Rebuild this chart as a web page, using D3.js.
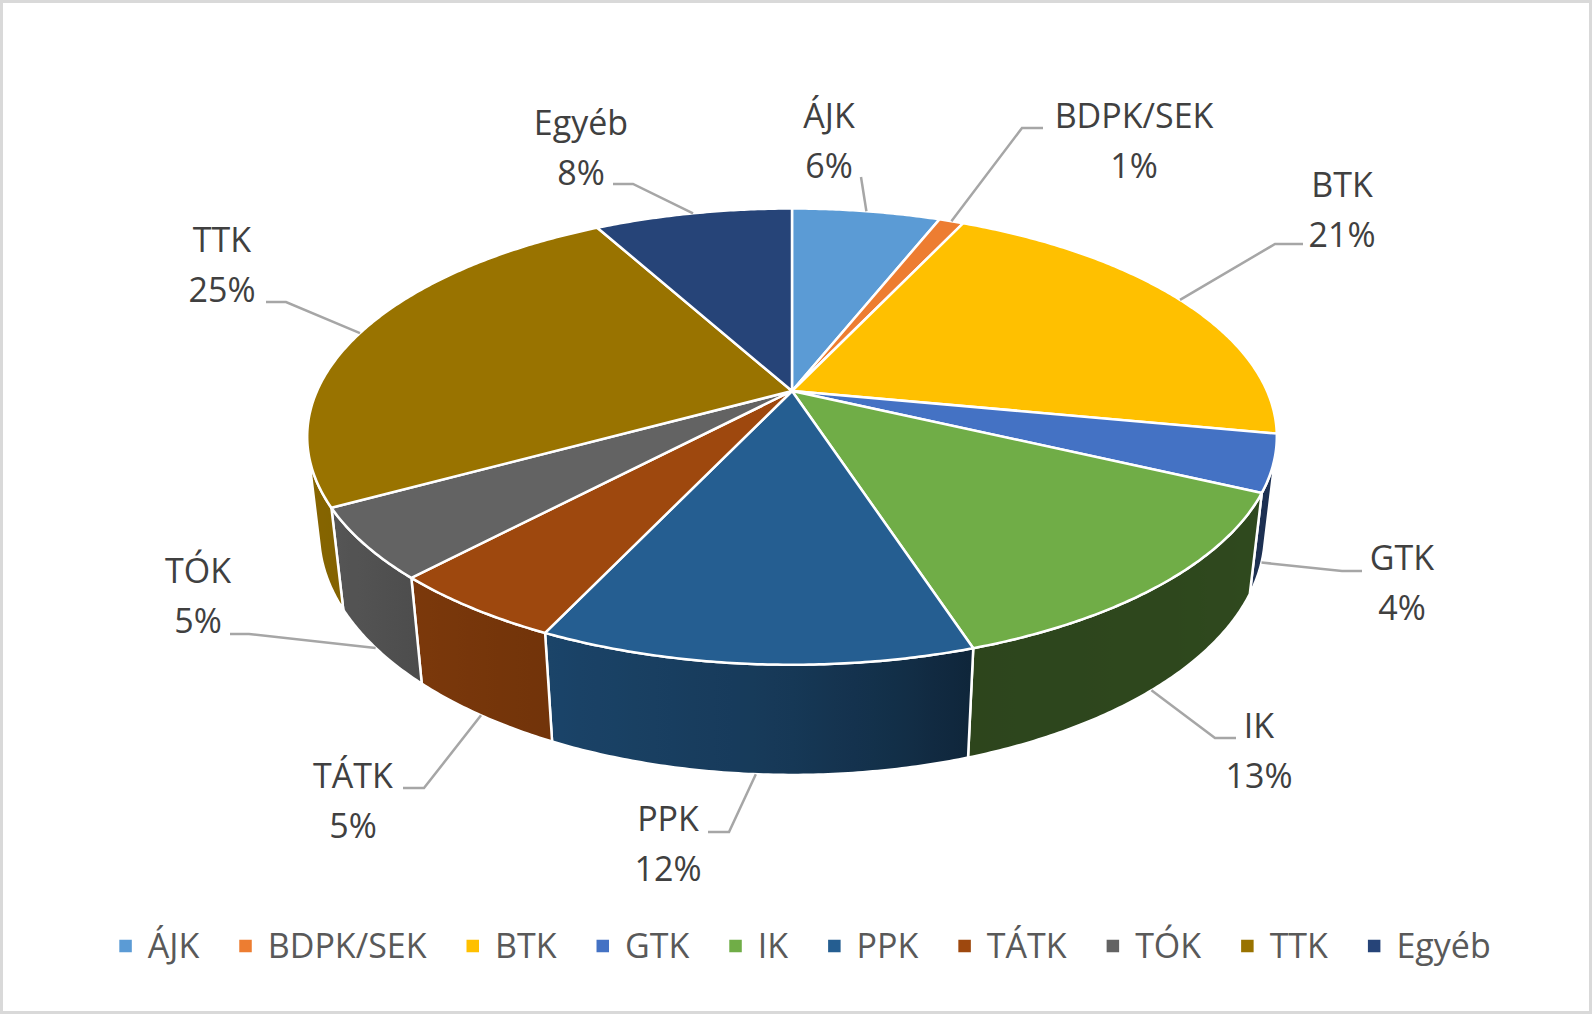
<!DOCTYPE html>
<html><head><meta charset="utf-8">
<script src="https://cdn.jsdelivr.net/npm/d3@7"></script>
<style>html,body{margin:0;padding:0;background:#fff;} svg{display:block}</style>
</head><body>
<svg id="chart" width="1592" height="1014"></svg>
<script>
// ---- data ----
const categories = ["ÁJK","BDPK/SEK","BTK","GTK","IK","PPK","TÁTK","TÓK","TTK","Egyéb"];
const values = [6,1,21,4,13,12,5,5,25,8];
const colors = ["#5B9BD5","#ED7D31","#FFC000","#4472C4","#70AD47","#255E91","#9E480E","#636363","#997300","#264478"];

// ---- label layout (text centre x, first-line centre y, leader elbow) ----
const labelLayout = [
  {x:829,  y:116, ex:861,  ey:177, len:0},
  {x:1134, y:116, ex:1043, ey:128, len:-21},
  {x:1342, y:185, ex:1303, ey:244, len:-28},
  {x:1402, y:558, ex:1362, ey:571, len:-20},
  {x:1259, y:726, ex:1236, ey:738, len:-21},
  {x:668,  y:819, ex:708,  ey:832, len:21},
  {x:353,  y:776, ex:403,  ey:788, len:21},
  {x:198,  y:571, ex:230,  ey:634, len:19},
  {x:222,  y:240, ex:266,  ey:302, len:20},
  {x:581,  y:123, ex:613,  ey:184, len:20}
];

const W = 1592, H = 1014;
const svg = d3.select("#chart");
svg.append("rect").attr("x",1.5).attr("y",1.5).attr("width",W-3).attr("height",H-3)
  .attr("fill","#fff").attr("stroke","#D9D9D9").attr("stroke-width",3);

// ---- 3D perspective projection ----
const cx = 792, cy = 391, K = 475, P = 0.2, S = 0.461;
const C = Math.sqrt(1 - S*S), D = C / P, F = K * D, TH = 0.231;
function project(theta, r, y) {
  const X = r*Math.sin(theta), Z = -r*Math.cos(theta);
  const v = Z*S - y*C, w = Z*C + y*S;
  return [cx + F*X/(D - w), cy + F*v/(D - w)];
}
const zMin = 1/(D*C);
const tMin = Math.acos(-zMin), tMax = 2*Math.PI - tMin;

const pie = d3.pie().sort(null).value(d => d.value).startAngle(0).endAngle(2*Math.PI);
const total = d3.sum(values);
const data = categories.map((c,i) => ({name:c, value:values[i], color:colors[i], i}));
const arcs = pie(data);
const pctFmt = d3.format(".0%");

const shade = d3.scaleLinear()
  .domain([104,120,162,170,183,205,223,241,256])
  .range([0.42,0.42,0.40,0.50,0.62,0.72,0.78,0.86,0.88]).clamp(true);
function darker(hex, f){ const c = d3.rgb(hex); return d3.rgb(c.r*f, c.g*f, c.b*f).formatHex(); }

const line = d3.line();
const defs = svg.append("defs");
const gWalls = svg.append("g"), gTops = svg.append("g"), gLead = svg.append("g"), gLab = svg.append("g");

function samples(a, b) {
  const n = Math.max(2, Math.ceil((b - a) / (Math.PI/360)));
  return d3.range(n + 1).map(k => a + (b - a) * k / n);
}

arcs.forEach((a, i) => {
  // wall
  const w0 = Math.max(a.startAngle, tMin), w1 = Math.min(a.endAngle, tMax);
  if (w1 > w0) {
    const ts = samples(w0, w1);
    const top = ts.map(t => project(t, 1, 0));
    const bot = ts.slice().reverse().map(t => project(t, 1, -TH));
    const xA = (project(w0,1,0)[0] + project(w0,1,-TH)[0]) / 2;
    const xB = (project(w1,1,0)[0] + project(w1,1,-TH)[0]) / 2;
    const grad = defs.append("linearGradient").attr("id", "wall" + i)
      .attr("gradientUnits","userSpaceOnUse").attr("x1", xA).attr("x2", xB).attr("y1",0).attr("y2",0);
    samples(w0, w1).filter((_,k,arr) => k % 4 === 0 || k === arr.length-1).forEach(t => {
      const xt = (project(t,1,0)[0] + project(t,1,-TH)[0]) / 2;
      const off = xB === xA ? 0 : (xt - xA) / (xB - xA);
      grad.append("stop").attr("offset", Math.max(0, Math.min(1, off)))
        .attr("stop-color", darker(a.data.color, shade(t * 180 / Math.PI)));
    });
    gWalls.append("path").attr("d", line(top.concat(bot)) + "Z")
      .attr("fill", "url(#wall" + i + ")").attr("stroke", "#fff").attr("stroke-width", 2.5)
      .attr("stroke-linejoin", "round");
  }
  // top face
  const pts = [[cx, cy]].concat(samples(a.startAngle, a.endAngle).map(t => project(t, 1, 0)));
  gTops.append("path").attr("d", line(pts) + "Z")
    .attr("fill", a.data.color).attr("stroke", "#fff").attr("stroke-width", 2.5)
    .attr("stroke-linejoin", "round");

  // leader
  const L = labelLayout[i];
  const mid = (a.startAngle + a.endAngle) / 2;
  const end = (mid > tMin && mid < tMax) ? project(mid, 1, -TH) : project(mid, 1, 0);
  const lp = L.len === 0 ? [[L.ex, L.ey], end] : [[L.ex, L.ey], [L.ex + L.len, L.ey], end];
  gLead.append("path").attr("d", line(lp)).attr("fill","none")
    .attr("stroke","#A6A6A6").attr("stroke-width",2.5);

  // label
  const t = gLab.append("text").attr("text-anchor","middle")
    .attr("font-family","'Open Sans', sans-serif").attr("font-size",34).attr("fill","#404040");
  t.append("tspan").attr("x", L.x).attr("y", L.y + 12).text(a.data.name);
  t.append("tspan").attr("x", L.x).attr("y", L.y + 62).text(pctFmt(a.data.value / total));
});

// ---- legend ----
const gLeg = svg.append("g");
const items = categories.map((c, i) => {
  const g = gLeg.append("g");
  g.append("rect").attr("width", 12.5).attr("height", 12.5).attr("y", 946 - 6.25).attr("fill", colors[i]);
  const tx = g.append("text").attr("x", 28.5).attr("y", 946 + 12)
    .attr("font-family","'Open Sans', sans-serif").attr("font-size",34).attr("fill","#595959").text(c);
  return {g, w: 28.5 + tx.node().getComputedTextLength()};
});
const gap = 40;
const totalW = d3.sum(items, d => d.w) + gap * (items.length - 1);
let xPos = 805 - totalW / 2;
items.forEach(it => { it.g.attr("transform", `translate(${xPos},0)`); xPos += it.w + gap; });
</script>
</body></html>
